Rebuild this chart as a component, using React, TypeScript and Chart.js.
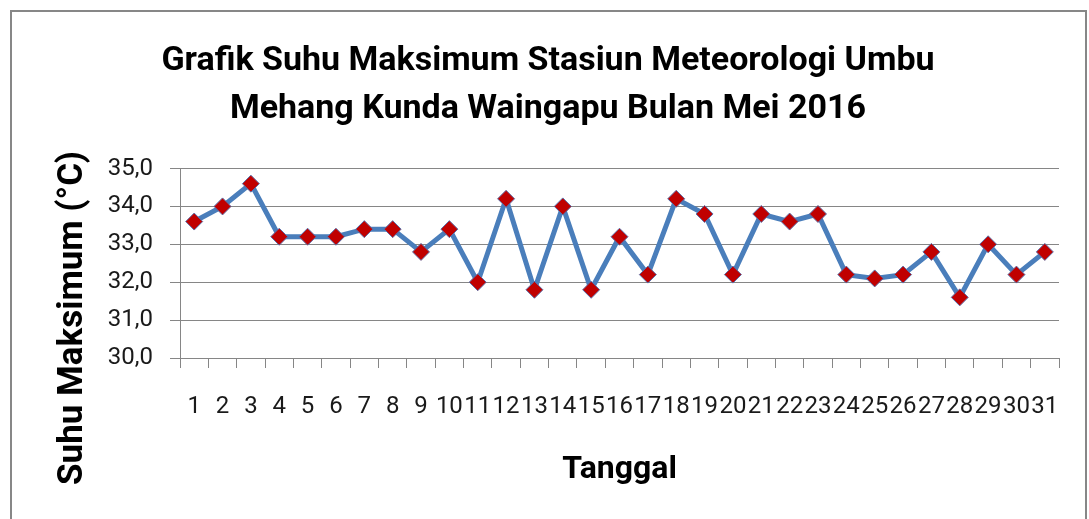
import React, { useEffect, useRef } from "react";
import { Chart, registerables } from "chart.js";

Chart.register(...registerables);

const titleLines = [
  "Grafik Suhu Maksimum Stasiun Meteorologi Umbu",
  "Mehang Kunda Waingapu Bulan Mei 2016",
];
const xTitle = "Tanggal";
const yTitle = "Suhu Maksimum (°C)";

const days = [
  "1", "2", "3", "4", "5", "6", "7", "8", "9", "10",
  "11", "12", "13", "14", "15", "16", "17", "18", "19", "20",
  "21", "22", "23", "24", "25", "26", "27", "28", "29", "30", "31",
];

const suhuMaks = [
  33.6, 34.0, 34.6, 33.2, 33.2, 33.2, 33.4, 33.4, 32.8, 33.4,
  32.0, 34.2, 31.8, 34.0, 31.8, 33.2, 32.2, 34.2, 33.8, 32.2,
  33.8, 33.6, 33.8, 32.2, 32.1, 32.2, 32.8, 31.6, 33.0, 32.2, 32.8,
];

const yMin = 30;
const yMax = 35;
const yStep = 1;

const FONT = "Roboto, 'Noto Sans', sans-serif";
const GRID = "#868686";

export default function App() {
  const ref = useRef<HTMLCanvasElement | null>(null);

  useEffect(() => {
    if (!ref.current) return;
    const yTitlePlugin = {
      id: "yTitlePlugin",
      afterDraw(chart: any) {
        const ctx = chart.ctx;
        ctx.save();
        ctx.translate(73, 318);
        ctx.rotate(-Math.PI / 2);
        ctx.font = `bold 35px ${FONT}`;
        ctx.fillStyle = "#000";
        ctx.textAlign = "center";
        ctx.textBaseline = "middle";
        ctx.fillText(yTitle, 0, 0);
        ctx.restore();
      },
    };

    const chart = new Chart(ref.current, {
      type: "line",
      data: {
        labels: days,
        datasets: [
          {
            label: "Suhu Maksimum",
            data: suhuMaks,
            borderColor: "#4A7EBB",
            borderWidth: 5,
            pointStyle: "rectRot",
            pointRadius: 8.5,
            pointHoverRadius: 8.5,
            pointBackgroundColor: "#C00000",
            pointBorderColor: "#5B6FA8",
            pointBorderWidth: 1,
            tension: 0,
            fill: false,
          },
        ],
      },
      options: {
        responsive: false,
        animation: false,
        layout: { padding: { left: 37, right: 30, top: 0, bottom: 0 } },
        plugins: {
          legend: { display: false },
          tooltip: { enabled: false },
          title: {
            display: true,
            text: titleLines,
            color: "#000",
            font: { family: FONT, size: 34, weight: "bold", lineHeight: 48 / 34 },
            padding: { top: 37, bottom: 35.5 },
          },
        },
        scales: {
          x: {
            type: "category",
            offset: true,
            grid: {
              display: true,
              drawOnChartArea: false,
              offset: true,
              color: GRID,
              tickLength: 10,
            },
            border: { display: true, color: GRID },
            ticks: {
              autoSkip: false,
              maxRotation: 0,
              minRotation: 0,
              padding: 25,
              color: "#1a1a1a",
              font: { family: FONT, size: 24 },
            },
            title: {
              display: true,
              text: xTitle,
              color: "#000",
              font: { family: FONT, size: 32, weight: "bold", lineHeight: 1.2 },
              padding: { top: 0, bottom: 30 },
            },
            afterFit(scale: any) {
              scale.height = 161;
            },
          },
          y: {
            min: yMin,
            max: yMax,
            ticks: {
              stepSize: yStep,
              padding: 17,
              color: "#1a1a1a",
              font: { family: FONT, size: 24 },
              callback: (v: any) => Number(v).toFixed(1).replace(".", ","),
            },
            grid: { color: GRID, tickLength: 10, lineWidth: 1 },
            border: { display: true, color: GRID },
            afterFit(scale: any) {
              scale.width = 143;
            },
          },
        },
      },
      plugins: [yTitlePlugin],
    });
    return () => chart.destroy();
  }, []);

  return (
    <div
      style={{
        position: "fixed",
        left: 0,
        top: 0,
        width: 1089,
        height: 519,
        overflow: "hidden",
        background: "#fff",
      }}
    >
      <div
        style={{
          position: "absolute",
          left: 10,
          top: 10,
          width: 1073,
          height: 600,
          borderTop: "2.5px solid #878787",
          borderLeft: "2.5px solid #878787",
          borderRight: "2.5px solid #878787",
        }}
      />
      <canvas
        ref={ref}
        width={1089}
        height={519}
        style={{ position: "absolute", left: 0, top: 0 }}
      />
    </div>
  );
}
